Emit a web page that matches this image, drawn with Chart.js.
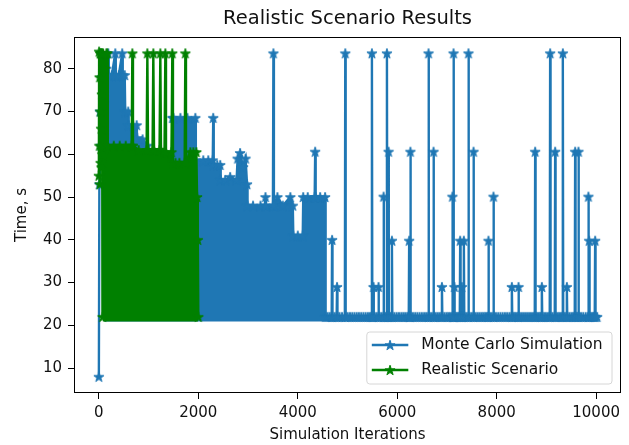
<!DOCTYPE html>
<html>
<head>
<meta charset="utf-8">
<title>Realistic Scenario Results</title>
<script src="https://cdn.jsdelivr.net/npm/chart.js@4.4.0/dist/chart.umd.min.js"></script>
<style>
  html, body { margin: 0; padding: 0; background: #fff; }
</style>
</head>
<body>
<canvas id="chart" width="629" height="445"></canvas>
<script>
// Axis ticks as printed on the figure
const xTicks = [0, 2000, 4000, 6000, 8000, 10000];
const yTicks = [10, 20, 30, 40, 50, 60, 70, 80];

// Monte Carlo Simulation: [iteration, time in s].
// 0–4560 is one solid block, so only its upper edge is traced; after that the
// run sits on the 22 s floor with isolated spikes.
const monteCarlo = [
  [0, 8], [10, 53], [20, 70], [40, 62], [60, 78], [100, 72], [150, 80], [190, 83.6],
  [200, 78.5], [260, 78.5], [330, 83.6], [340, 78.5], [400, 78.5], [470, 83.6], [480, 78.5],
  [520, 78.5], [530, 70], [590, 70], [600, 66.8], [690, 66.8], [760, 66.8], [770, 63.8],
  [880, 63.5], [975, 62], [985, 60], [1200, 60], [1470, 60], [1480, 68.5], [1500, 68.5],
  [1640, 68.5], [1780, 68.5], [1940, 68.5], [1950, 58.6], [2100, 58.6], [2200, 58.6],
  [2290, 58.6], [2300, 68.5], [2310, 57.5], [2380, 57.5], [2440, 57.5], [2450, 54],
  [2540, 54], [2640, 54.7], [2770, 54], [2790, 59], [2840, 60.3], [2900, 57], [2950, 59],
  [2980, 53], [2990, 48], [3100, 48], [3250, 48], [3340, 48], [3350, 50], [3360, 48],
  [3500, 48], [3510, 83.6], [3520, 48], [3590, 50], [3700, 48], [3850, 50], [3900, 48],
  [3910, 41], [4000, 41], [4100, 41], [4110, 50], [4200, 50], [4340, 50], [4350, 60.6],
  [4360, 50], [4450, 50], [4550, 50],
  [4560, 22], [4600, 22], [4640, 22], [4682, 22], [4690, 40], [4698, 22], [4740, 22],
  [4782, 22], [4790, 29], [4798, 22], [4840, 22], [4890, 22], [4947, 22], [4955, 83.6],
  [4963, 22], [5005, 22], [5050, 22], [5095, 22], [5140, 22], [5185, 22], [5230, 22],
  [5275, 22], [5320, 22], [5365, 22], [5410, 22], [5450, 22], [5483, 22], [5491, 83.6],
  [5499, 22], [5516, 22], [5524, 29], [5532, 22], [5575, 22], [5616, 22], [5624, 29],
  [5632, 22], [5675, 22], [5718, 22], [5726, 50.1], [5734, 22], [5760, 22], [5785, 22],
  [5793, 83.6], [5801, 22], [5818, 22], [5826, 60.6], [5834, 22], [5860, 22], [5885, 22],
  [5893, 39.8], [5901, 22], [5945, 22], [5990, 22], [6035, 22], [6080, 22], [6120, 22],
  [6160, 22], [6200, 22], [6232, 22], [6240, 39.8], [6248, 22], [6257, 22], [6265, 60.6],
  [6273, 22], [6315, 22], [6360, 22], [6405, 22], [6450, 22], [6495, 22], [6540, 22],
  [6580, 22], [6622, 22], [6630, 83.6], [6638, 22], [6680, 22], [6722, 22], [6730, 60.6],
  [6738, 22], [6775, 22], [6815, 22], [6855, 22], [6891, 22], [6899, 29], [6907, 22],
  [6950, 22], [6990, 22], [7025, 22], [7060, 22], [7102, 22], [7110, 50.1], [7118, 22],
  [7124, 22], [7132, 83.6], [7140, 22], [7143, 22], [7150, 29], [7158, 22], [7185, 22],
  [7210, 22], [7235, 22], [7258, 22], [7266, 39.8], [7274, 22], [7292, 22], [7300, 29],
  [7308, 22], [7332, 22], [7340, 39.8], [7348, 22], [7385, 22], [7425, 22], [7433, 83.6],
  [7441, 22], [7485, 22], [7526, 22], [7534, 60.6], [7542, 22], [7580, 22], [7620, 22],
  [7660, 22], [7700, 22], [7735, 22], [7770, 22], [7800, 22], [7827, 22], [7835, 39.8],
  [7843, 22], [7885, 22], [7928, 22], [7936, 50.1], [7944, 22], [7985, 22], [8030, 22],
  [8075, 22], [8120, 22], [8165, 22], [8210, 22], [8255, 22], [8297, 22], [8305, 29],
  [8313, 22], [8340, 22], [8370, 22], [8400, 22], [8431, 22], [8439, 29], [8447, 22],
  [8490, 22], [8530, 22], [8570, 22], [8610, 22], [8650, 22], [8690, 22], [8730, 22],
  [8766, 22], [8774, 60.6], [8782, 22], [8815, 22], [8845, 22], [8875, 22], [8900, 22],
  [8908, 29], [8916, 22], [8955, 22], [8990, 22], [9030, 22], [9067, 22], [9075, 83.6],
  [9083, 22], [9125, 22], [9168, 22], [9176, 60.6], [9184, 22], [9220, 22], [9255, 22],
  [9290, 22], [9322, 22], [9330, 83.6], [9338, 22], [9370, 22], [9403, 22], [9411, 29],
  [9419, 22], [9460, 22], [9500, 22], [9535, 22], [9570, 22], [9578, 60.6], [9586, 22],
  [9610, 22], [9637, 22], [9645, 60.6], [9653, 22], [9695, 22], [9740, 22], [9790, 22],
  [9837, 22], [9845, 50.1], [9853, 22], [9860, 39.8], [9868, 22], [9900, 22], [9930, 22],
  [9950, 22], [9972, 22], [9980, 39.8], [9988, 22], [10020, 22]
];

// Realistic Scenario: [iteration, time in s]. The first ~70 iterations stay high,
// then the run becomes a solid block up to ~60 s with spikes to the 83.6 s ceiling.
const realistic = [
  [0, 55], [5, 84], [10, 62], [15, 78], [20, 53], [25, 83.6], [30, 70], [35, 58],
  [40, 83.6], [45, 66], [50, 83.6], [55, 57], [60, 74], [65, 83.6], [70, 60],
  [75, 22], [85, 83.6], [120, 80], [150, 83.6], [170, 83.6], [180, 62], [300, 62],
  [420, 62], [540, 62], [660, 62], [673, 83.6], [686, 62], [800, 61], [960, 61],
  [975, 83.6], [990, 61], [1080, 61], [1095, 83.6], [1110, 61], [1220, 61], [1236, 83.6],
  [1250, 61], [1320, 60.5], [1337, 83.6], [1350, 60.5], [1460, 60.5], [1477, 83.6],
  [1490, 58], [1540, 58], [1620, 58], [1725, 58], [1739, 83.6], [1752, 58], [1840, 60.5],
  [1900, 60.5], [1960, 60.5], [1975, 50], [1990, 40], [2000, 22]
];

// where each solid block starts (index into the arrays above)
const MC_BLOCK_FROM = 5;
const RS_BLOCK_FROM = 15;

const BLUE = '#1f77b4';
const GREEN = '#008000';
const TEXT = '#111';
const FILL_FLOOR = 20.9;   // lower edge of the star band under the floor
const FONT = '"DejaVu Sans", sans-serif';

Chart.defaults.font.family = FONT;

/** matplotlib '*' marker: a filled five-pointed star */
function starMarker(color) {
    const size = 14;
    const c = document.createElement('canvas');
    c.width = c.height = size;
    const g = c.getContext('2d');
    const outer = 5.3, inner = outer * 0.382;
    g.beginPath();
    for (let i = 0; i < 10; i++) {
        const rad = i % 2 ? inner : outer;
        const a = -Math.PI / 2 + i * Math.PI / 5;
        g.lineTo(size / 2 + rad * Math.cos(a), size / 2 + 0.5 + rad * Math.sin(a));
    }
    g.closePath();
    g.fillStyle = color;
    g.fill();
    g.lineWidth = 1;
    g.strokeStyle = color;
    g.stroke();
    return c;
}

const toXY = rows => rows.map(([x, y]) => ({ x, y }));

function seriesLine(label, rows, color, order) {
    return {
        label, order, legend: true,
        data: toXY(rows),
        borderColor: color,
        borderWidth: 2.4,
        fill: false,
        pointStyle: starMarker(color),
        pointRadius: 5,
        pointHoverRadius: 5
    };
}

// solid body of a block: filled down to the floor, no stroke, no markers
function blockFill(rows, color, order) {
    return {
        label: '', order, legend: false,
        data: toXY(rows),
        borderColor: 'rgba(0,0,0,0)',
        borderWidth: 0,
        backgroundColor: color,
        fill: { value: FILL_FLOOR },
        pointRadius: 0
    };
}

/** matplotlib-style box round the plotting area */
const frame = {
    id: 'frame',
    afterDatasetsDraw(chart) {
        const { ctx, chartArea: a } = chart;
        ctx.save();
        ctx.strokeStyle = '#000';
        ctx.lineWidth = 1;
        ctx.strokeRect(a.left + 0.5, a.top + 0.5, a.width - 1, a.height - 1);
        ctx.restore();
    }
};

/** legend inside the axes, lower right, like loc='best' put it */
const insetLegend = {
    id: 'insetLegend',
    afterDraw(chart) {
        const { ctx, chartArea: area } = chart;
        const entries = chart.data.datasets.filter(ds => ds.legend);
        ctx.save();
        ctx.font = `15.5px ${FONT}`;
        const textW = Math.max(...entries.map(e => ctx.measureText(e.label).width));
        const rowH = 25, padL = 5, handle = 36.5, gap = 13, padR = 9.5;
        const w = padL + handle + gap + textW + padR;
        const h = rowH * entries.length + 2;
        const right = area.right - 9, bottom = area.bottom - 9;
        const left = right - w, top = bottom - h;

        const r = 3;
        ctx.beginPath();
        ctx.moveTo(left + r, top);
        ctx.arcTo(right, top, right, bottom, r);
        ctx.arcTo(right, bottom, left, bottom, r);
        ctx.arcTo(left, bottom, left, top, r);
        ctx.arcTo(left, top, right, top, r);
        ctx.closePath();
        ctx.fillStyle = 'rgba(255,255,255,0.8)';
        ctx.fill();
        ctx.strokeStyle = '#d6d6d6';
        ctx.lineWidth = 1;
        ctx.stroke();

        entries.forEach((e, i) => {
            const y = top + 13 + i * rowH;
            ctx.strokeStyle = e.borderColor;
            ctx.lineWidth = 2.4;
            ctx.beginPath();
            ctx.moveTo(left + padL, y);
            ctx.lineTo(left + padL + handle, y);
            ctx.stroke();
            const star = e.pointStyle;
            ctx.drawImage(star, left + padL + handle / 2 - star.width / 2, y - star.height / 2);
            ctx.fillStyle = TEXT;
            ctx.textAlign = 'left';
            ctx.textBaseline = 'middle';
            ctx.fillText(e.label, left + padL + handle + gap, y);
        });
        ctx.restore();
    }
};

const tickGrid = { display: true, drawOnChartArea: false, drawTicks: true, tickLength: 6, color: '#000', lineWidth: 1 };

new Chart(document.getElementById('chart'), {
    type: 'line',
    data: {
        datasets: [
            // drawn bottom to top: higher order first
            blockFill(monteCarlo.slice(MC_BLOCK_FROM), BLUE, 3),
            seriesLine('Monte Carlo Simulation', monteCarlo, BLUE, 2),
            blockFill(realistic.slice(RS_BLOCK_FROM), GREEN, 1),
            seriesLine('Realistic Scenario', realistic, GREEN, 0)
        ]
    },
    options: {
        responsive: false,
        animation: false,
        events: [],
        layout: { padding: { top: 0, right: 8, bottom: 0, left: 0 } },
        plugins: {
            legend: { display: false },
            tooltip: { enabled: false },
            title: {
                display: true,
                fullSize: false,
                text: 'Realistic Scenario Results',
                color: TEXT,
                font: { size: 19.5, weight: 'normal' },
                padding: { top: 7, bottom: 6.6 }
            }
        },
        scales: {
            x: {
                type: 'linear',
                min: -500,
                max: 10500,
                afterBuildTicks: s => { s.ticks = xTicks.map(v => ({ value: v })); },
                afterFit: s => { s.height = 52; },
                grid: tickGrid,
                border: { display: false },
                ticks: { padding: 5, color: TEXT, font: { size: 15 }, maxRotation: 0, autoSkip: false, callback: v => String(v) },
                title: { display: true, text: 'Simulation Iterations', color: TEXT, font: { size: 15 }, padding: { top: 0, bottom: 1 } }
            },
            y: {
                type: 'linear',
                min: 4.2,
                max: 87.4,
                afterBuildTicks: s => { s.ticks = yTicks.map(v => ({ value: v })); },
                afterFit: s => { s.width = 74; },
                grid: tickGrid,
                border: { display: false },
                ticks: { padding: 6, color: TEXT, font: { size: 15 }, callback: v => String(v) },
                title: { display: true, text: 'Time, s', color: TEXT, font: { size: 15 }, padding: { top: 13, bottom: 0 } }
            }
        }
    },
    plugins: [frame, insetLegend]
});
</script>
</body>
</html>
